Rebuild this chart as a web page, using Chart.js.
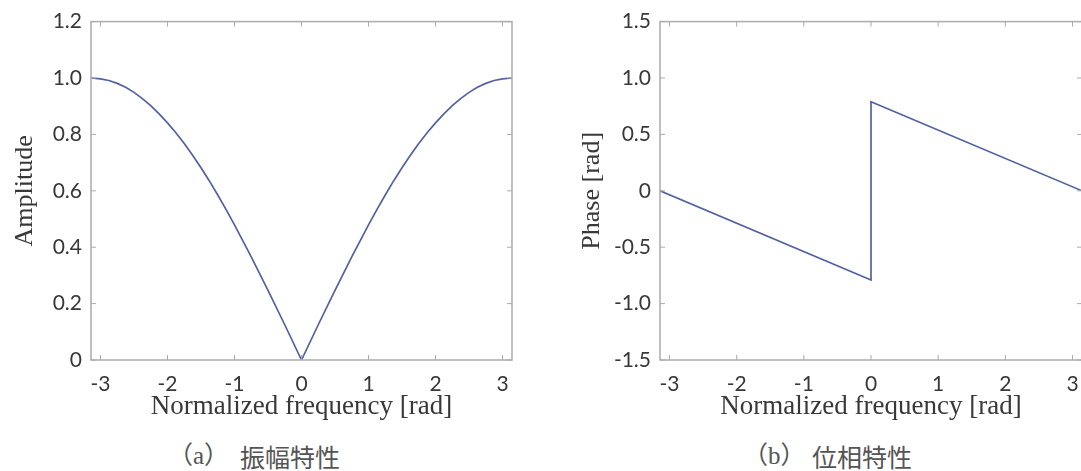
<!DOCTYPE html>
<html lang="ja">
<head>
<meta charset="UTF-8">
<title>振幅特性・位相特性</title>
<script src="https://cdn.jsdelivr.net/npm/chart.js"></script>
<style>
  html, body { margin: 0; padding: 0; background: #fff; }
  body { width: 1081px; height: 471px; position: relative; overflow: hidden; }
  .panel { position: absolute; top: 0; }
  .cap { position: absolute; top: 441px; font-size: 25px; line-height: 30px; color: #555;
         font-family: "Liberation Serif", "Noto Sans CJK JP", serif; white-space: nowrap; }
  .cjk { font-family: "Noto Sans CJK JP", sans-serif; }
</style>
</head>
<body>
<div class="panel" style="left:0"><canvas id="chartAmp" width="540" height="430"></canvas></div>
<div class="panel" style="left:540px"><canvas id="chartPhase" width="560" height="430"></canvas></div>

<span class="cap" style="left:168px">（a）</span>
<span class="cap cjk" style="left:240px">振幅特性</span>
<span class="cap" style="left:743px">（b）</span>
<span class="cap cjk" style="left:812px">位相特性</span>

<script>
// data
const freqAmp = [-3.1416, -3, -2.875, -2.75, -2.625, -2.5, -2.375, -2.25, -2.125, -2, -1.875, -1.75,
                 -1.625, -1.5, -1.375, -1.25, -1.125, -1, -0.75, -0.5, -0.25,
                 0, 0.25, 0.5, 0.75, 1, 1.125, 1.25, 1.375, 1.5, 1.625, 1.75,
                 1.875, 2, 2.125, 2.25, 2.375, 2.5, 2.625, 2.75, 2.875, 3, 3.1416];
const amplitude = [1.0, 0.997, 0.991, 0.981, 0.967, 0.949, 0.927, 0.902, 0.873, 0.841, 0.806, 0.768,
                   0.726, 0.682, 0.635, 0.585, 0.533, 0.479, 0.366, 0.247, 0.125,
                   0, 0.125, 0.247, 0.366, 0.479, 0.533, 0.585, 0.635, 0.682, 0.726, 0.768,
                   0.806, 0.841, 0.873, 0.902, 0.927, 0.949, 0.967, 0.981, 0.991, 0.997, 1.0];
const freqPhase = [-3.1416, 0, 0, 3.1416];
const phase = [0, -0.79, 0.79, 0];

const xTicks = [-3, -2, -1, 0, 1, 2, 3];
const ampTicks = [0, 0.2, 0.4, 0.6, 0.8, 1.0, 1.2];
const ampLabels = ['0', '0.2', '0.4', '0.6', '0.8', '1.0', '1.2'];
const phaseTicks = [-1.5, -1.0, -0.5, 0, 0.5, 1.0, 1.5];
const phaseLabels = ['-1.5', '-1.0', '-0.5', '0', '0.5', '1.0', '1.5'];

const lineColor = '#5361a3';
const boxColor = '#ababab';
const textColor = '#383838';

// box round the plot with short inward ticks, like MATLAB
const boxPlugin = {
  id: 'box',
  afterDatasetsDraw(chart) {
    const {ctx, chartArea: a, scales} = chart;
    const len = 5;
    ctx.save();
    ctx.strokeStyle = boxColor;
    ctx.lineWidth = 1.5;
    ctx.strokeRect(a.left, a.top, a.right - a.left, a.bottom - a.top);
    ctx.lineWidth = 1;
    ctx.beginPath();
    scales.x.ticks.forEach(t => {
      const px = scales.x.getPixelForValue(t.value);
      ctx.moveTo(px, a.bottom); ctx.lineTo(px, a.bottom - len);
      ctx.moveTo(px, a.top); ctx.lineTo(px, a.top + len);
    });
    scales.y.ticks.forEach(t => {
      const py = scales.y.getPixelForValue(t.value);
      ctx.moveTo(a.left, py); ctx.lineTo(a.left + len, py);
      ctx.moveTo(a.right, py); ctx.lineTo(a.right - len, py);
    });
    ctx.stroke();
    ctx.restore();
  }
};

function makeChart(id, xs, ys, yTicks, yLabels, yTitle, yWidth, yTitlePad, padRight) {
  const pts = xs.map((x, i) => ({x: x, y: ys[i]}));
  return new Chart(document.getElementById(id), {
    type: 'line',
    data: {
      datasets: [{
        data: pts,
        borderColor: lineColor,
        borderWidth: 1.7,
        pointRadius: 0,
        tension: 0,
        fill: false
      }]
    },
    options: {
      responsive: false,
      animation: false,
      devicePixelRatio: 1,
      layout: { padding: { top: 21, right: padRight, left: 0, bottom: 0 } },
      plugins: { legend: { display: false }, tooltip: { enabled: false } },
      scales: {
        x: {
          type: 'linear',
          min: -Math.PI,
          max: Math.PI,
          afterBuildTicks: s => { s.ticks = xTicks.map(v => ({value: v})); },
          afterFit: s => { s.height = 70; },
          grid: { display: false, drawTicks: false },
          border: { display: false },
          ticks: {
            padding: 12,
            color: textColor,
            font: { family: 'Lato', size: 21 },
            callback: v => String(v)
          },
          title: {
            display: true,
            text: 'Normalized frequency [rad]',
            color: textColor,
            font: { family: 'Liberation Serif', size: 27 },
            padding: { top: 0, bottom: 7 }
          }
        },
        y: {
          min: yTicks[0],
          max: yTicks[yTicks.length - 1],
          afterBuildTicks: s => { s.ticks = yTicks.map(v => ({value: v})); },
          afterFit: s => { s.width = yWidth; },
          grid: { display: false, drawTicks: false },
          border: { display: false },
          ticks: {
            padding: 9,
            color: textColor,
            font: { family: 'Lato', size: 21 },
            callback: (v, i) => yLabels[i]
          },
          title: {
            display: true,
            text: yTitle,
            color: textColor,
            font: { family: 'Liberation Serif', size: 26 },
            padding: { top: yTitlePad, bottom: 0 }
          }
        }
      }
    },
    plugins: [boxPlugin]
  });
}

makeChart('chartAmp', freqAmp, amplitude, ampTicks, ampLabels, 'Amplitude', 91, 10, 28);
makeChart('chartPhase', freqPhase, phase, phaseTicks, phaseLabels, 'Phase [rad]', 120, 37, 18);
</script>
</body>
</html>
